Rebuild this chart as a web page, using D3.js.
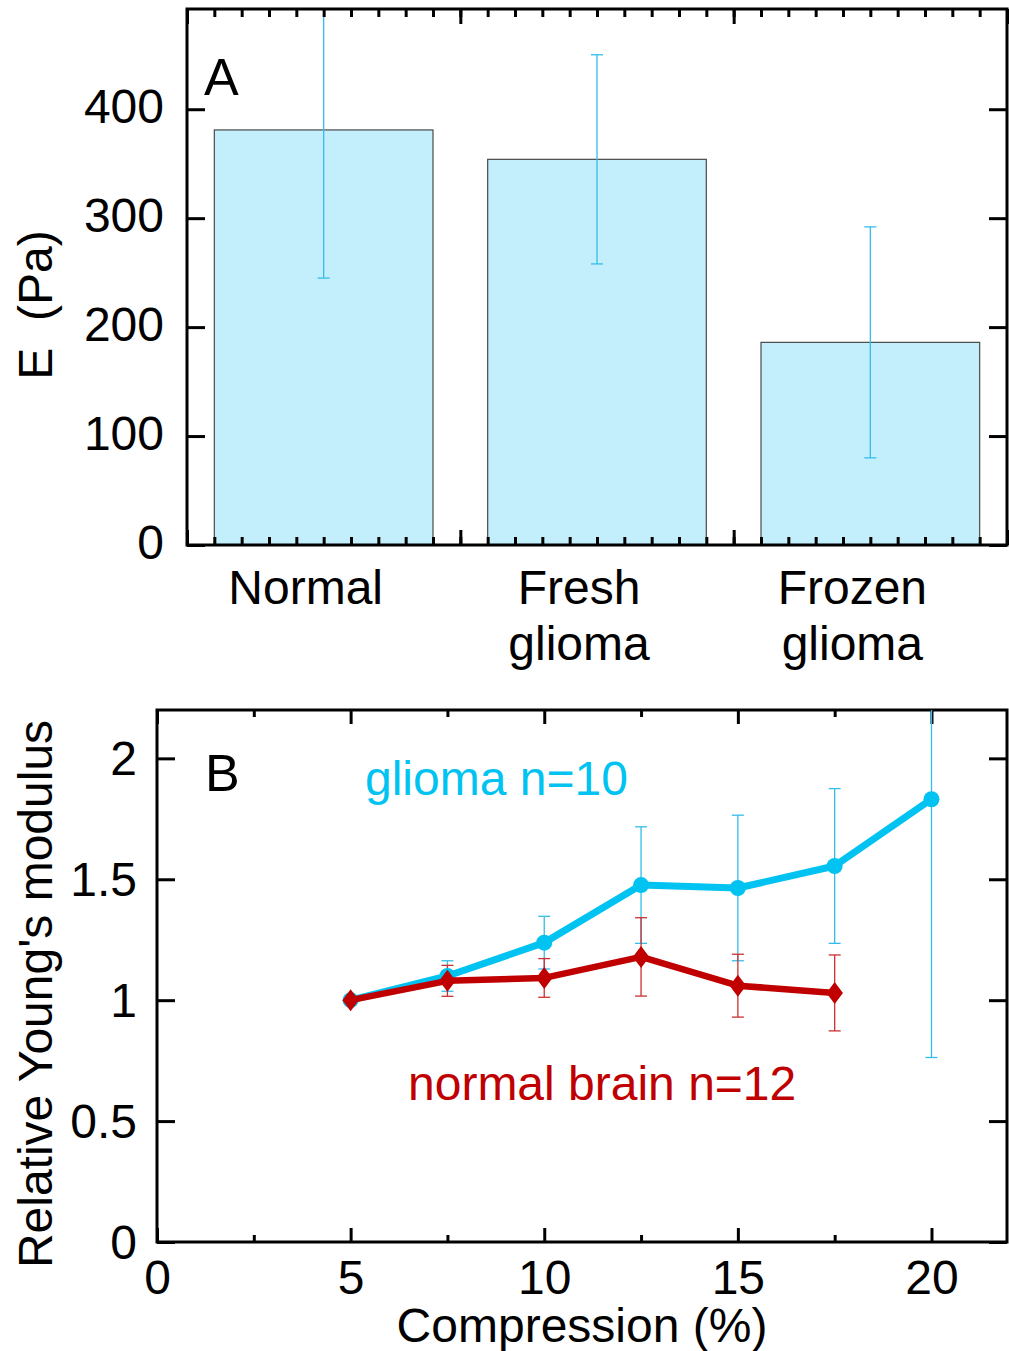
<!DOCTYPE html>
<html>
<head>
<meta charset="utf-8">
<script src="https://cdn.jsdelivr.net/npm/d3@7/dist/d3.min.js"></script>
<style>
  html, body { margin: 0; padding: 0; background: #fff; }
  svg { display: block; }
  text { font-family: "Liberation Sans", Arial, Helvetica, sans-serif; }
</style>
</head>
<body>
<svg id="chart" width="1009" height="1351"></svg>
<script>
// ---------- Data ----------
const categories = [["Normal"], ["Fresh", "glioma"], ["Frozen", "glioma"]];
const barValues = [381, 354, 186];
const barErrors = [136, 96, 106];

const yTicksA = [0, 100, 200, 300, 400];

const compressionGlioma = [5, 7.5, 10, 12.5, 15, 17.5, 20];
const gliomaMean = [1.0, 1.10, 1.238, 1.476, 1.464, 1.555, 1.831];
const gliomaErr  = [0, 0.063, 0.109, 0.241, 0.301, 0.32, 1.068];

const compressionNormal = [5, 7.5, 10, 12.5, 15, 17.5];
const normalMean = [1.0, 1.080, 1.092, 1.179, 1.060, 1.030];
const normalErr  = [0, 0.064, 0.08, 0.162, 0.13, 0.157];

const xTicksB = [0, 5, 10, 15, 20];
const xMinorB = [2.5, 7.5, 12.5, 17.5];
const yTicksB = [0, 0.5, 1, 1.5, 2];
const yTickLabelsB = ["0", "0.5", "1", "1.5", "2"];

// ---------- Setup ----------
const svg = d3.select("#chart");
const FONT = 48;
const BLUE = "#00c3f2";
const BLUE_ERR = "#33bdea";
const RED = "#c00000";
const RED_ERR = "#cc3030";

// ================= Panel A =================
const A = { left: 187, right: 1007, top: 9, bottom: 545 };
const xA = d3.scaleLinear().domain([0, 3]).range([A.left, A.right]);
const yA = d3.scaleLinear().domain([0, 492]).range([A.bottom, A.top]);

const gA = svg.append("g");
gA.append("clipPath").attr("id", "clipA").append("rect")
  .attr("x", A.left).attr("y", A.top).attr("width", A.right - A.left).attr("height", A.bottom - A.top);

// bars
gA.selectAll("rect.bar").data(barValues).enter().append("rect")
  .attr("class", "bar")
  .attr("x", (d, i) => xA(i + 0.1))
  .attr("width", (d, i) => xA(i + 0.9) - xA(i + 0.1))
  .attr("y", d => yA(d))
  .attr("height", d => yA(0) - yA(d))
  .attr("fill", "#c2effb")
  .attr("stroke", "#4a4a4a")
  .attr("stroke-width", 1.2);

// error bars
const errA = gA.append("g").attr("clip-path", "url(#clipA)")
  .attr("stroke", BLUE_ERR).attr("stroke-width", 1.3).attr("fill", "none");
barValues.forEach((v, i) => {
  const cx = xA(i + 0.5);
  const y1 = yA(v + barErrors[i]), y0 = yA(v - barErrors[i]);
  errA.append("line").attr("x1", cx).attr("x2", cx).attr("y1", y1).attr("y2", y0);
  errA.append("line").attr("x1", cx - 6).attr("x2", cx + 6).attr("y1", y1).attr("y2", y1);
  errA.append("line").attr("x1", cx - 6).attr("x2", cx + 6).attr("y1", y0).attr("y2", y0);
});

// ticks A
const minorA = d3.range(0, 31).map(i => i / 10);
const majorA = [0, 1, 2, 3];
function styleTicks(g) {
  g.select(".domain").remove();
  g.selectAll(".tick line").attr("stroke", "#000").attr("stroke-width", 3);
  g.selectAll(".tick text").attr("font-size", FONT).attr("fill", "#000")
    .style("font-family", '"Liberation Sans", Arial, sans-serif');
}
gA.append("g").attr("transform", `translate(0,${A.bottom})`)
  .call(d3.axisBottom(xA).tickValues(minorA).tickSize(-8).tickFormat("")).call(styleTicks);
gA.append("g").attr("transform", `translate(0,${A.bottom})`)
  .call(d3.axisBottom(xA).tickValues(majorA).tickSize(-15).tickFormat("")).call(styleTicks);
gA.append("g").attr("transform", `translate(0,${A.top})`)
  .call(d3.axisTop(xA).tickValues(minorA).tickSize(-8).tickFormat("")).call(styleTicks);
gA.append("g").attr("transform", `translate(0,${A.top})`)
  .call(d3.axisTop(xA).tickValues(majorA).tickSize(-15).tickFormat("")).call(styleTicks);
gA.append("g").attr("transform", `translate(${A.left},0)`)
  .call(d3.axisLeft(yA).tickValues(yTicksA).tickSize(-18).tickPadding(23).tickFormat(d3.format("d")))
  .call(styleTicks)
  .call(g => g.selectAll(".tick text").attr("dy", "0.28em"));
gA.append("g").attr("transform", `translate(${A.right},0)`)
  .call(d3.axisRight(yA).tickValues(yTicksA).tickSize(-18).tickFormat("")).call(styleTicks);

// frame A
gA.append("rect").attr("x", A.left).attr("y", A.top)
  .attr("width", A.right - A.left).attr("height", A.bottom - A.top)
  .attr("fill", "none").attr("stroke", "#000").attr("stroke-width", 3);

// category labels
categories.forEach((lines, i) => {
  lines.forEach((t, j) => {
    gA.append("text").attr("x", xA(i + 0.5) - 18).attr("y", 604 + j * 56)
      .attr("text-anchor", "middle").attr("font-size", FONT).text(t);
  });
});

// panel letter & y title
gA.append("text").attr("x", 204).attr("y", 95).attr("font-size", 52).text("A");
gA.append("text").attr("transform", `translate(52,${(A.top + A.bottom) / 2 + 28}) rotate(-90)`)
  .attr("text-anchor", "middle").attr("font-size", FONT)
  .text("E\u00a0\u00a0(Pa)");

// ================= Panel B =================
const B = { left: 157, right: 1007, top: 710, bottom: 1242 };
const xB = d3.scaleLinear().domain([0, 21.95]).range([B.left, B.right]);
const yB = d3.scaleLinear().domain([0, 2.2]).range([B.bottom, B.top]);

const gB = svg.append("g");
gB.append("clipPath").attr("id", "clipB").append("rect")
  .attr("x", B.left).attr("y", B.top).attr("width", B.right - B.left).attr("height", B.bottom - B.top);

gB.append("g").attr("transform", `translate(0,${B.bottom})`)
  .call(d3.axisBottom(xB).tickValues(xTicksB).tickSize(-14).tickPadding(18).tickFormat(d3.format("d")))
  .call(styleTicks);
gB.append("g").attr("transform", `translate(0,${B.bottom})`)
  .call(d3.axisBottom(xB).tickValues(xMinorB).tickSize(-7).tickFormat("")).call(styleTicks);
gB.append("g").attr("transform", `translate(0,${B.top})`)
  .call(d3.axisTop(xB).tickValues(xTicksB).tickSize(-14).tickFormat("")).call(styleTicks);
gB.append("g").attr("transform", `translate(0,${B.top})`)
  .call(d3.axisTop(xB).tickValues(xMinorB).tickSize(-7).tickFormat("")).call(styleTicks);
gB.append("g").attr("transform", `translate(${B.left},0)`)
  .call(d3.axisLeft(yB).tickValues(yTicksB).tickSize(-18).tickPadding(20)
    .tickFormat((d, i) => yTickLabelsB[i]))
  .call(styleTicks)
  .call(g => g.selectAll(".tick text").attr("dy", "0.34em"));
gB.append("g").attr("transform", `translate(${B.right},0)`)
  .call(d3.axisRight(yB).tickValues(yTicksB).tickSize(-18).tickFormat("")).call(styleTicks);

gB.append("rect").attr("x", B.left).attr("y", B.top)
  .attr("width", B.right - B.left).attr("height", B.bottom - B.top)
  .attr("fill", "none").attr("stroke", "#000").attr("stroke-width", 3);

// error bars
function errorBars(xs, ms, es, color) {
  const g = gB.append("g").attr("clip-path", "url(#clipB)")
    .attr("stroke", color).attr("stroke-width", 1.3).attr("fill", "none");
  xs.forEach((x, i) => {
    if (es[i] <= 0) return;
    const cx = xB(x), y1 = yB(ms[i] + es[i]), y0 = yB(ms[i] - es[i]);
    g.append("line").attr("x1", cx).attr("x2", cx).attr("y1", y1).attr("y2", y0);
    g.append("line").attr("x1", cx - 6).attr("x2", cx + 6).attr("y1", y1).attr("y2", y1);
    g.append("line").attr("x1", cx - 6).attr("x2", cx + 6).attr("y1", y0).attr("y2", y0);
  });
}
errorBars(compressionGlioma, gliomaMean, gliomaErr, BLUE_ERR);
errorBars(compressionNormal, normalMean, normalErr, RED_ERR);

const line = d3.line().x(d => xB(d[0])).y(d => yB(d[1]));
const gliomaPts = compressionGlioma.map((x, i) => [x, gliomaMean[i]]);
const normalPts = compressionNormal.map((x, i) => [x, normalMean[i]]);

gB.append("path").datum(gliomaPts).attr("d", line)
  .attr("fill", "none").attr("stroke", BLUE).attr("stroke-width", 7).attr("stroke-linejoin", "round");
gB.selectAll("circle.gl").data(gliomaPts).enter().append("circle")
  .attr("cx", d => xB(d[0])).attr("cy", d => yB(d[1])).attr("r", 8).attr("fill", BLUE);

gB.append("path").datum(normalPts).attr("d", line)
  .attr("fill", "none").attr("stroke", RED).attr("stroke-width", 6.5).attr("stroke-linejoin", "round");
const diamond = d3.symbol().type(d3.symbolDiamond).size(140);
gB.selectAll("path.nb").data(normalPts).enter().append("path")
  .attr("transform", d => `translate(${xB(d[0])},${yB(d[1])}) scale(1.3,1)`)
  .attr("d", diamond).attr("fill", RED);

// labels
gB.append("text").attr("x", 205).attr("y", 791).attr("font-size", 52).text("B");
gB.append("text").attr("x", 365).attr("y", 795).attr("font-size", FONT).attr("fill", BLUE).text("glioma n=10");
gB.append("text").attr("x", 408).attr("y", 1100).attr("font-size", FONT).attr("fill", RED).text("normal brain n=12");
gB.append("text").attr("x", 582).attr("y", 1342).attr("text-anchor", "middle").attr("font-size", FONT)
  .text("Compression (%)");
gB.append("text").attr("transform", `translate(52,${(B.top + B.bottom) / 2 + 18}) rotate(-90)`)
  .attr("text-anchor", "middle").attr("font-size", FONT).text("Relative Young's modulus");
</script>
</body>
</html>
